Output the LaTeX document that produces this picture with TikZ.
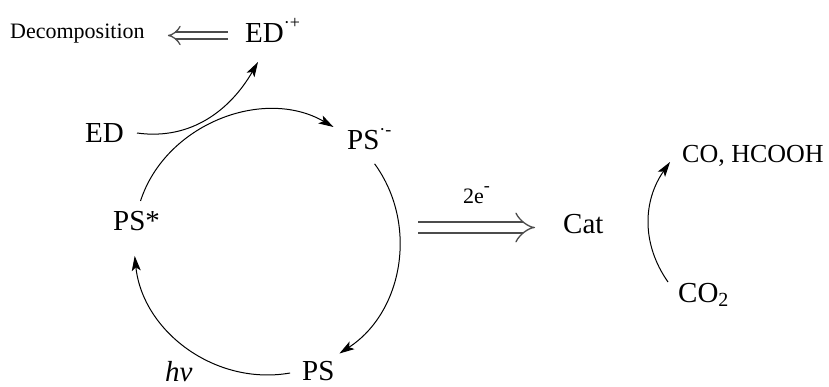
\documentclass[tikz,border=0pt]{standalone}
\usepackage{fontspec}
\setmainfont{Liberation Serif}
\usetikzlibrary{arrows.meta}
\newcommand\charge[1]{\raisebox{0.5em}{\fontsize{18}{18}\selectfont #1}}
\newcommand\subnum[1]{\raisebox{-4pt}{\fontsize{20}{20}\selectfont #1}}

\begin{document}
\begin{tikzpicture}[x=1pt, y=1pt,
  species/.style={inner sep=0pt, anchor=base west, font=\fontsize{29}{32}\selectfont},
  minor/.style={inner sep=0pt, anchor=base west, font=\fontsize{22}{24}\selectfont},
  cycarrow/.style={line width=1pt, -{Stealth[length=15pt, width=9pt, inset=3.5pt]}},
  transfer/.style={draw=black!70, line width=1.3pt, double, double distance=#1, -{Implies}}
]
\useasboundingbox (0,0) rectangle (829,386);
% species
\node[minor] (decomp) at (10,347) {Decomposition};
\node[species] (edplus) at (245,343) {ED\charge{·+}};
\node[species] (ed) at (85,243) {ED};
\node[species] (psm) at (347,236) {PS\charge{·-}};
\node[species] (pss) at (113,156) {PS*};
\node[species] (ps) at (302,6) {PS};
\node[species] (hv) at (165,5) {\textit{hν}};
\node[species] (cat) at (563,153) {Cat};
\node[species, font=\fontsize{26}{28}\selectfont] (prod) at (682,223) {CO, HCOOH};
\node[species] (co2) at (678,84) {CO\subnum{2}};
\node[minor] (twoe) at (463,183) {2e\charge{-}};
% photocatalytic cycle
\draw[cycarrow] ([shift={(27.5,29)}]pss.base west) to[out=72, in=150] ([shift={(-13.5,23)}]psm.base west);
\draw[cycarrow] ([shift={(27.6,-13.8)}]psm.base west) to[out=-54, in=33] ([shift={(37.4,26.5)}]ps.base west);
\draw[cycarrow] ([shift={(-11.9,7)}]ps.base west) to[out=190, in=-84] ([shift={(21.7,-25.9)}]pss.base west);
\draw[cycarrow] ([shift={(52,10)}]ed.base west) to[out=-8, in=240] ([shift={(13,-19)}]edplus.base west);
\draw[cycarrow] ([shift={(-10,20)}]co2.base west) to[out=125, in=235] ([shift={(-12,1)}]prod.base west);
% electron transfer
\draw[transfer=5.5pt] ([shift={(-17,7.5)}]edplus.base west) -- ([shift={(23,3.5)}]decomp.base east);
\draw[transfer=9.5pt] ([shift={(-145,5.5)}]cat.base west) -- ([shift={(-28,5.5)}]cat.base west);
\end{tikzpicture}
\end{document}
